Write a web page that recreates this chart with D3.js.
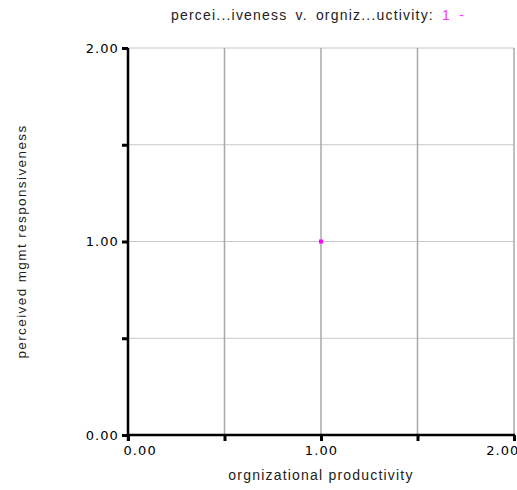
<!DOCTYPE html>
<html><head><meta charset="utf-8">
<script src="https://cdn.jsdelivr.net/npm/d3@7"></script>
<style>body{margin:0;background:#fff;} svg{display:block;}</style>
</head><body>
<svg id="c" width="517" height="490"></svg>
<script>
const xTicks = [0, 1, 2];
const yTicks = [0, 1, 2];
const minorTicks = [0.5, 1.5];
const gridVals = [0, 0.5, 1, 1.5, 2];
const pointsX = [1];
const pointsY = [1];
const titleMain = "percei...iveness v. orgniz...uctivity: ";
const titleSeries = "1 -";
const xLabel = "orgnizational productivity";
const yLabel = "perceived mgmt responsiveness";

const svg = d3.select("#c");
const x = d3.scaleLinear().domain([0, 2]).range([128, 514]);
const y = d3.scaleLinear().domain([0, 2]).range([435, 48]);

// gridlines
svg.append("g").selectAll("line").data(gridVals.filter(v => v > 0)).join("line")
  .attr("x1", x(0)).attr("x2", x(2)).attr("y1", d => y(d)).attr("y2", d => y(d))
  .attr("stroke", "#c8c8c8").attr("stroke-width", 1);
svg.append("g").selectAll("line").data(gridVals.filter(v => v > 0)).join("line")
  .attr("x1", d => x(d)).attr("x2", d => x(d)).attr("y1", y(0)).attr("y2", y(2))
  .attr("stroke", "#a8a8a8").attr("stroke-width", 1.5);

// axes
const fmt = d3.format(".2f");
const tickFont = "DejaVu Sans, Verdana, sans-serif";
const xAxis = d3.axisBottom(x).tickValues(xTicks.concat(minorTicks)).tickSize(6)
  .tickFormat(d => xTicks.includes(d) ? fmt(d) : "");
const gx = svg.append("g").attr("transform", `translate(0,${y(0)})`).call(xAxis);
gx.select(".domain").attr("stroke", "#000").attr("stroke-width", 2.5).attr("d", `M${x(0)-1},0H${x(2)+1}`);
gx.selectAll(".tick line").attr("stroke", "#000").attr("stroke-width", 3);
gx.selectAll(".tick text").attr("font-family", tickFont).attr("font-size", 13).attr("letter-spacing", 1.1)
  .attr("fill", "#000").attr("y", 11)
  .attr("text-anchor", d => d === 0 ? "start" : d === 2 ? "end" : "middle")
  .attr("dx", d => d === 0 ? -5 : d === 2 ? 5 : 0);

const yAxis = d3.axisLeft(y).tickValues(yTicks.concat(minorTicks)).tickSize(6)
  .tickFormat(d => yTicks.includes(d) ? fmt(d) : "");
const gy = svg.append("g").attr("transform", `translate(${x(0)},0)`).call(yAxis);
gy.select(".domain").attr("stroke", "#000").attr("stroke-width", 2.5).attr("d", `M0,${y(2)}V${y(0)+6}`);
gy.selectAll(".tick line").attr("stroke", "#000").attr("stroke-width", 3);
gy.selectAll(".tick text").attr("font-family", tickFont).attr("font-size", 13).attr("letter-spacing", 1.1)
  .attr("fill", "#000").attr("x", -9);

// points
svg.append("g").selectAll("rect").data(pointsX.map((d, i) => [d, pointsY[i]])).join("rect")
  .attr("x", d => x(d[0]) - 2).attr("y", d => y(d[1]) - 2).attr("width", 4).attr("height", 4)
  .attr("fill", "#ff00ff");

// title
const labelFont = "Liberation Sans, Arial, sans-serif";
const t = svg.append("text").attr("x", 318).attr("y", 20).attr("text-anchor", "middle")
  .attr("font-family", labelFont).attr("font-size", 14).attr("letter-spacing", 1.2).attr("word-spacing", 3);
t.append("tspan").attr("fill", "#222").text(titleMain);
t.append("tspan").attr("fill", "#ff33ff").text(titleSeries);

svg.append("text").attr("x", 321).attr("y", 480).attr("text-anchor", "middle")
  .attr("font-family", labelFont).attr("font-size", 14).attr("letter-spacing", 1.2)
  .attr("fill", "#222").text(xLabel);

svg.append("text").attr("transform", `translate(26,${y(1)}) rotate(-90)`).attr("text-anchor", "middle")
  .attr("font-family", labelFont).attr("font-size", 13.5).attr("letter-spacing", 1.4)
  .attr("fill", "#222").text(yLabel);
</script>
</body></html>
